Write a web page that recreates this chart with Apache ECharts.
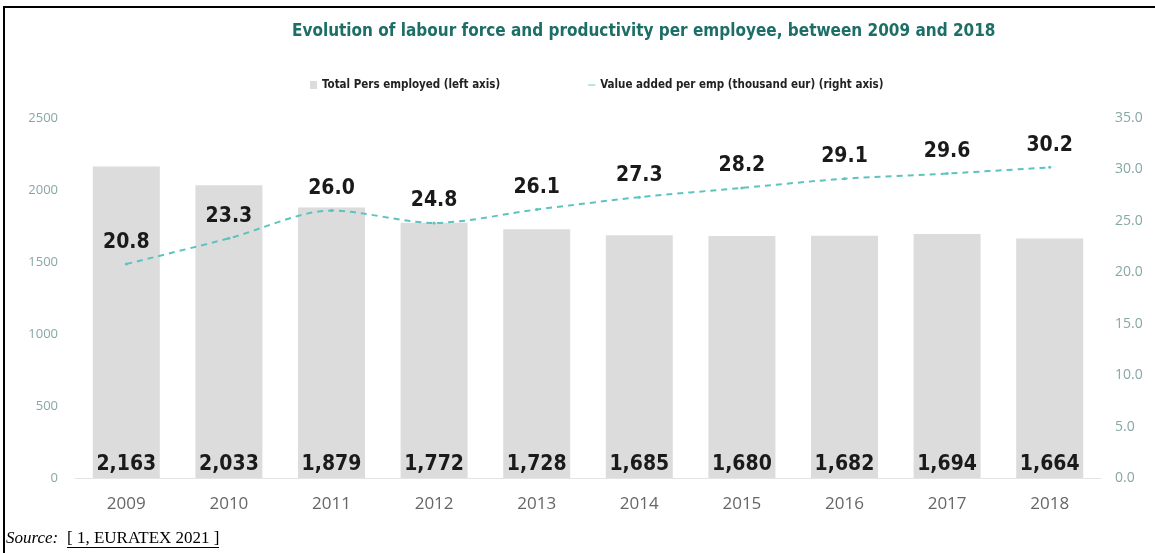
<!DOCTYPE html>
<html>
<head>
<meta charset="utf-8">
<script src="https://cdn.jsdelivr.net/npm/echarts@6/dist/echarts.min.js"></script>
<style>
  html, body { margin: 0; padding: 0; background: #fff; }
  #chart { width: 1155px; height: 553px; }
</style>
</head>
<body>
<div id="chart"></div>
<script>
// Years on the category axis
const years = ['2009', '2010', '2011', '2012', '2013', '2014', '2015', '2016', '2017', '2018'];
// Total persons employed (thousands), left axis
const persEmployed = [2163, 2033, 1879, 1772, 1728, 1685, 1680, 1682, 1694, 1664];
// Value added per employee (thousand EUR), right axis
const valueAdded = [20.8, 23.3, 26.0, 24.8, 26.1, 27.3, 28.2, 29.1, 29.6, 30.2];

const titleText = 'Evolution of labour force and productivity per employee, between 2009 and 2018';
const barName = 'Total Pers employed (left axis)';
const lineName = 'Value added per emp (thousand eur) (right axis)';

// Condensed bold face: font-stretch goes in through the style slot of the canvas font string
const condensedFamily = '"DejaVu Sans Condensed", "DejaVu Sans", sans-serif';
const teal = '#5cc3c0';
const axisTextColor = '#86a7a4';

const chart = echarts.init(document.getElementById('chart'));

chart.setOption({
  animation: false,
  backgroundColor: '#fff',
  title: {
    text: titleText,
    left: 287,
    top: 18,
    textStyle: { fontFamily: condensedFamily, fontStyle: 'condensed', fontWeight: 'bold', fontSize: 17, color: '#1d6e66' }
  },
  legend: {
    top: 74,
    left: 305,
    itemGap: 88,
    itemWidth: 7,
    itemHeight: 8,
    textStyle: { fontFamily: condensedFamily, fontStyle: 'condensed', fontWeight: 'bold', fontSize: 11.5, color: '#222' },
    data: [
      { name: barName, icon: 'rect', itemStyle: { color: '#dcdcdc' } },
      { name: lineName, icon: 'path://M0,4L8,4L8,5L0,5Z', itemStyle: { color: teal } }
    ]
  },
  grid: { left: 75, right: 54, top: 118, bottom: 75, containLabel: false },
  xAxis: {
    type: 'category',
    data: years,
    axisLine: { show: true, lineStyle: { color: '#e4e4e4', width: 1 } },
    axisTick: { show: false },
    axisLabel: { fontFamily: '"Open Sans", sans-serif', fontSize: 17, color: '#666', margin: 18 }
  },
  yAxis: [
    {
      type: 'value', min: 0, max: 2500, interval: 500,
      splitLine: { show: false },
      axisLine: { show: false }, axisTick: { show: false },
      axisLabel: {
        fontFamily: '"Open Sans", sans-serif', fontSize: 13, color: axisTextColor, margin: 17,
        formatter: v => String(v)
      }
    },
    {
      type: 'value', min: 0, max: 35, interval: 5,
      splitLine: { show: false },
      axisLine: { show: false }, axisTick: { show: false },
      axisLabel: {
        fontFamily: '"Open Sans", sans-serif', fontSize: 14, color: axisTextColor, margin: 14,
        formatter: v => v.toFixed(1)
      }
    }
  ],
  series: [
    {
      name: barName,
      type: 'bar',
      data: persEmployed,
      barWidth: 67,
      itemStyle: { color: '#dcdcdc' },
      label: {
        show: true,
        position: 'insideBottom',
        distance: 3,
        fontFamily: condensedFamily, fontStyle: 'condensed', fontWeight: 'bold', fontSize: 21, color: '#1a1a1a',
        formatter: p => p.value.toLocaleString('en-US')
      }
    },
    {
      name: lineName,
      type: 'line',
      yAxisIndex: 1,
      data: valueAdded,
      smooth: 0.3,
      symbol: 'circle',
      symbolSize: 3,
      itemStyle: { color: teal },
      lineStyle: { color: teal, width: 2, type: [6, 5] },
      label: {
        show: true,
        position: 'top',
        distance: 10,
        fontFamily: condensedFamily, fontStyle: 'condensed', fontWeight: 'bold', fontSize: 21, color: '#1a1a1a',
        formatter: p => p.value.toFixed(1)
      }
    }
  ],
  graphic: [
    // frame lines on the top and left
    { type: 'rect', shape: { x: 3, y: 6, width: 1152, height: 2 }, style: { fill: '#000' }, silent: true },
    { type: 'rect', shape: { x: 3, y: 6, width: 2, height: 547 }, style: { fill: '#000' }, silent: true },
    // source note
    {
      type: 'text', left: 6, top: 530,
      style: { text: 'Source:', font: 'italic 17px "Liberation Serif", serif', fill: '#000' }
    },
    {
      type: 'text', left: 67, top: 530,
      style: { text: '[ 1, EURATEX 2021 ]', font: '17px "Liberation Serif", serif', fill: '#000' }
    },
    { type: 'rect', shape: { x: 67, y: 547, width: 152, height: 1 }, style: { fill: '#000' }, silent: true }
  ]
});
</script>
</body>
</html>
